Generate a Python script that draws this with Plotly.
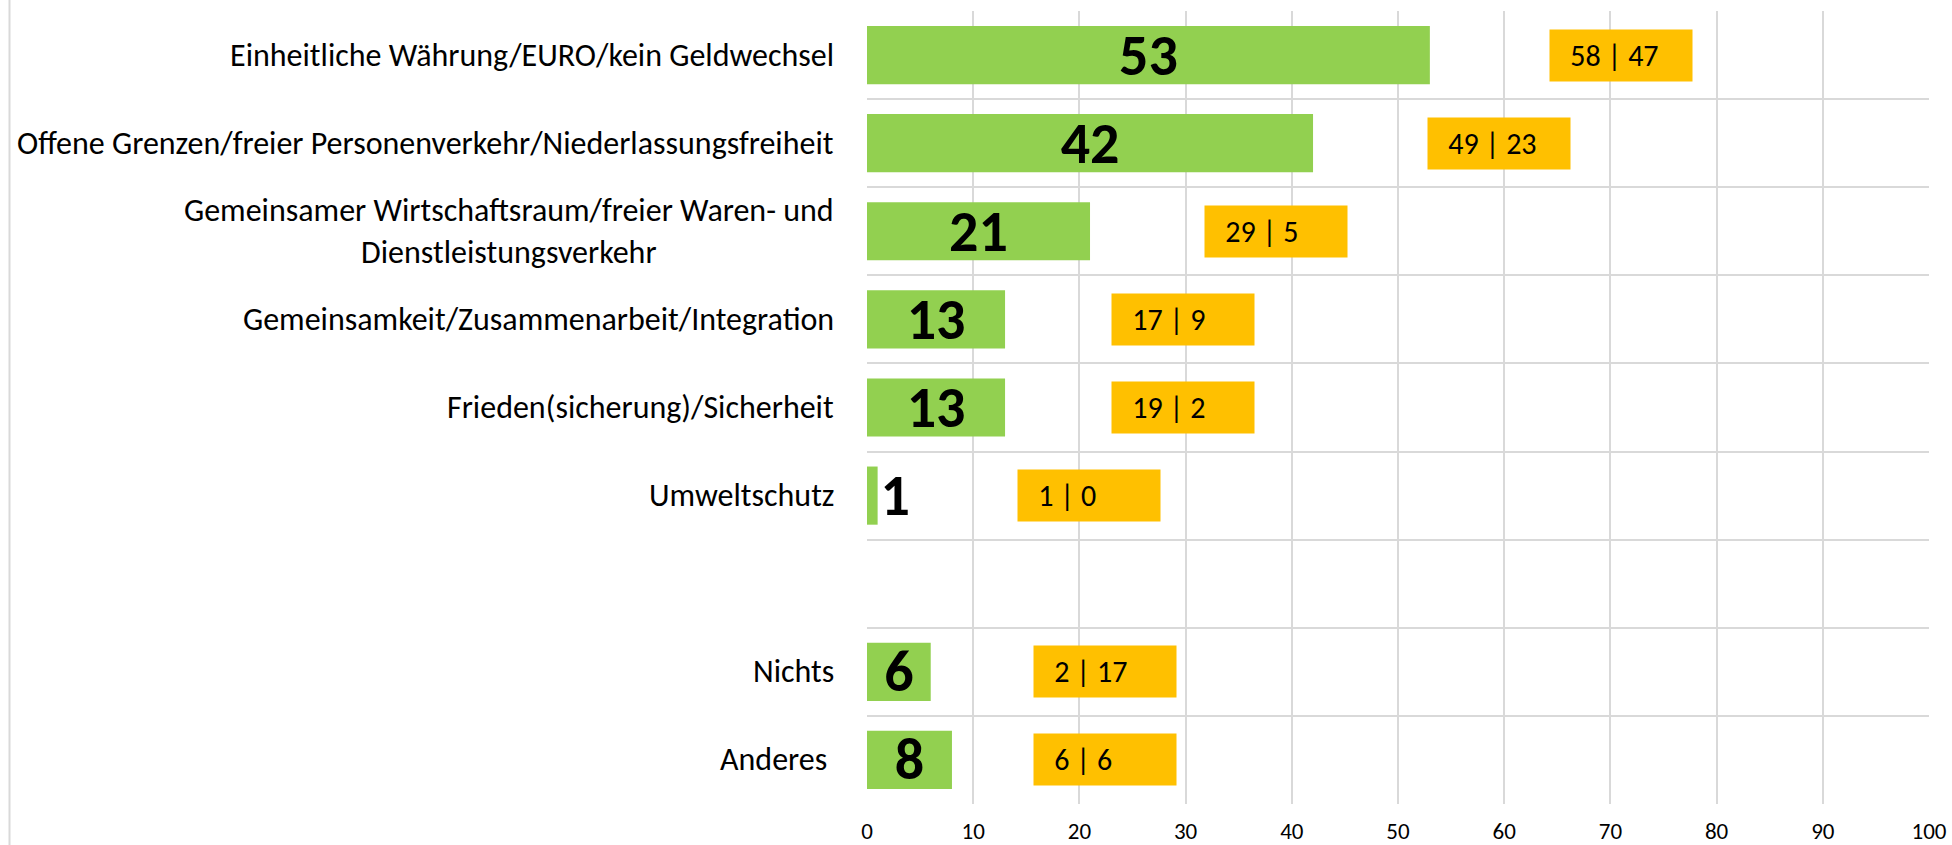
import plotly.graph_objects as go

# ---- data ----
categories = [
    "Einheitliche Währung/EURO/kein Geldwechsel",
    "Offene Grenzen/freier Personenverkehr/Niederlassungsfreiheit",
    "Gemeinsamer Wirtschaftsraum/freier Waren- und<br>Dienstleistungsverkehr",
    "Gemeinsamkeit/Zusammenarbeit/Integration",
    "Frieden(sicherung)/Sicherheit",
    "Umweltschutz",
    "",
    "Nichts",
    "Anderes ",
]
total_pct = [53, 42, 21, 13, 13, 1, None, 6, 8]
sub_a = [58, 49, 29, 17, 19, 1, None, 2, 6]
sub_b = [47, 23, 5, 9, 2, 0, None, 17, 6]
x_ticks = [0, 10, 20, 30, 40, 50, 60, 70, 80, 90, 100]

# ---- layout-only placement of the orange callouts (left edge, in axis units) ----
callout_left = [64.2, 52.7, 31.7, 23.0, 23.0, 14.1, None, 15.6, 15.6]

FONT = "Carlito, Lato, sans-serif"
GREEN = "#92D050"
ORANGE = "#FFC000"
GRID = "#D9D9D9"

pos = list(range(len(categories)))

bar_text = ["" if v is None else str(v) for v in total_pct]
bar_pos = ["outside" if (v is not None and v < 3) else "inside" for v in total_pct]

fig = go.Figure()
fig.add_trace(go.Bar(
    x=total_pct, y=pos, orientation="h", width=0.66,
    marker=dict(color=GREEN, line=dict(width=0)),
    text=bar_text, textposition=bar_pos, insidetextanchor="middle", textangle=0,
    textfont=dict(family=FONT, size=58, color="black", weight="bold"),
    cliponaxis=False, hoverinfo="skip", showlegend=False,
))

annotations = []
# category labels (centred multi-line, right-aligned block)
for p, c in zip(pos, categories):
    if not c.strip():
        continue
    txt = c.rstrip() + ("&nbsp;" if c.endswith(" ") else "")
    annotations.append(dict(
        x=0, y=p, xref="x", yref="y", xanchor="right", yanchor="middle",
        xshift=-31, text=txt, showarrow=False, align="center",
        font=dict(family=FONT, size=32, color="black"),
    ))
# orange callouts
for p, a, b, left in zip(pos, sub_a, sub_b, callout_left):
    if a is None:
        continue
    annotations.append(dict(
        x=left, y=p, xref="x", yref="y", xanchor="left", yanchor="middle",
        text="&nbsp;&nbsp;&nbsp;" + f"{a} | {b}", showarrow=False,
        align="left", valign="middle", width=142, height=51,
        bgcolor=ORANGE, borderpad=0,
        font=dict(family=FONT, size=30, color="black"),
    ))

plot_w = 1952 - 867 - 23
fig.update_layout(
    width=1952, height=845,
    margin=dict(l=867, r=23, t=11, b=41, autoexpand=False),
    paper_bgcolor="white", plot_bgcolor="white",
    uniformtext=dict(minsize=58, mode="show"),
    xaxis=dict(
        range=[0, 100], tickmode="array", tickvals=x_ticks,
        showgrid=True, gridcolor=GRID, gridwidth=1.5,
        zeroline=False, showline=False, ticks="", automargin=False,
        tickfont=dict(family=FONT, size=23, color="black"),
        ticklabelstandoff=11,
    ),
    yaxis=dict(
        range=[len(categories) - 0.5, -0.5], automargin=False,
        tickmode="array", tickvals=[i - 0.5 for i in range(len(categories) + 1)],
        showticklabels=False, showgrid=True, gridcolor=GRID, gridwidth=1.5,
        zeroline=False, showline=False, ticks="",
    ),
    annotations=annotations,
    shapes=[dict(
        type="line", xref="paper", yref="paper",
        x0=-(867 - 9.5) / plot_w, x1=-(867 - 9.5) / plot_w, y0=-0.2, y1=1.2,
        line=dict(color=GRID, width=2),
    )],
)

fig.write_html(
    "out.html",
    config={"displayModeBar": False},
    post_script="document.body.style.margin='0';document.body.style.overflow='hidden';",
)
